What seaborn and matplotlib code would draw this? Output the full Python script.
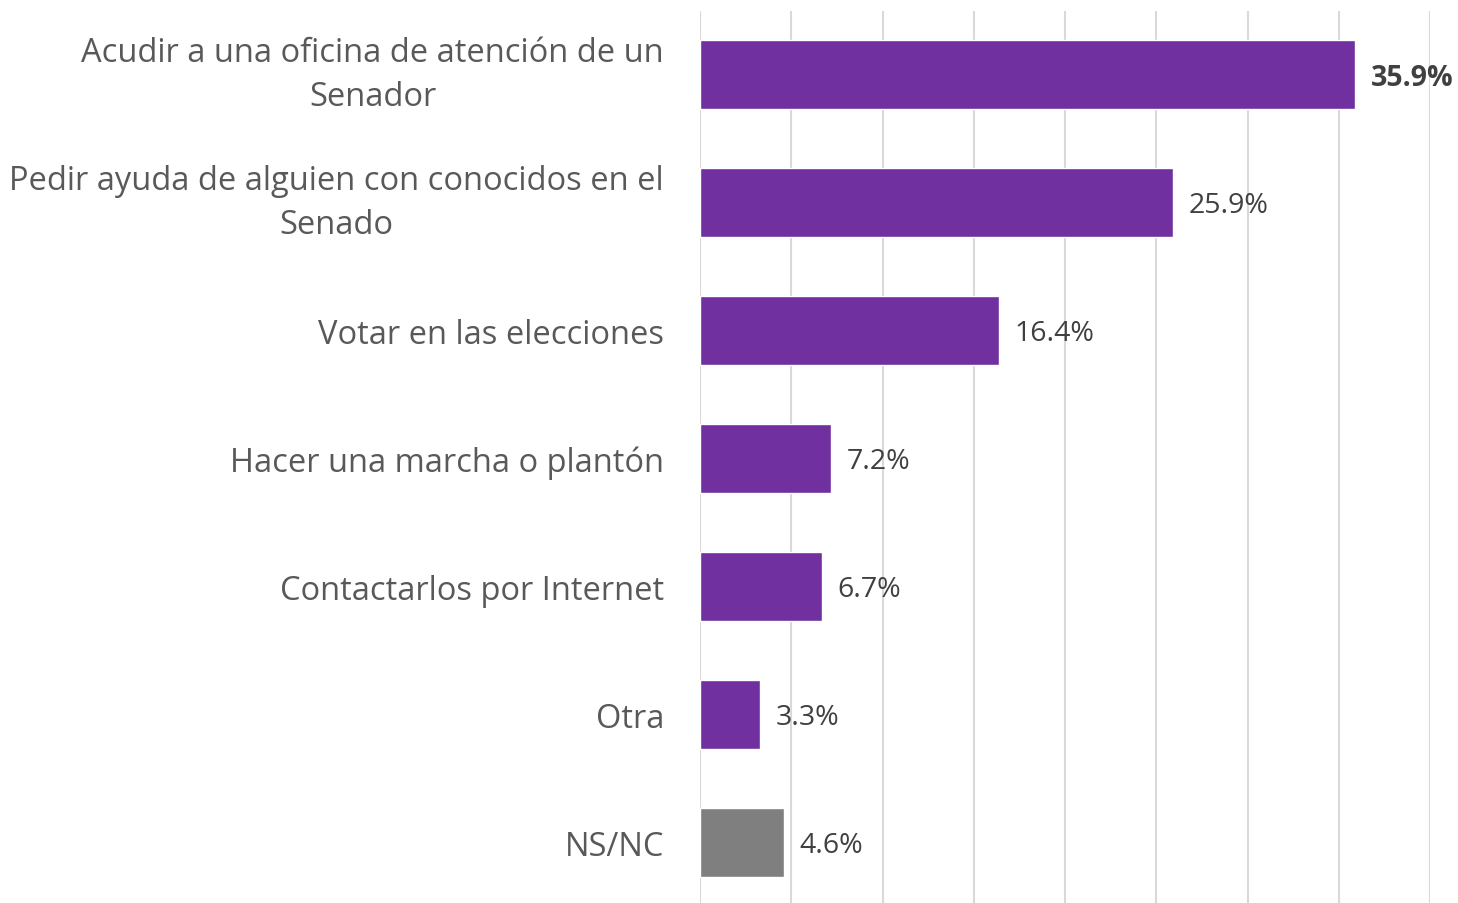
import numpy as np
import pandas as pd
import matplotlib
matplotlib.use("Agg")
import matplotlib.pyplot as plt
import seaborn as sns

# data
categories = [
    "Acudir a una oficina de atención de un\nSenador",
    "Pedir ayuda de alguien con conocidos en el\nSenado",
    "Votar en las elecciones",
    "Hacer una marcha o plantón",
    "Contactarlos por Internet",
    "Otra",
    "NS/NC",
]
values = [35.9, 25.9, 16.4, 7.2, 6.7, 3.3, 4.6]
bar_colors = ["#7030A0"] * 6 + ["#7F7F7F"]

df = pd.DataFrame({"cat": categories, "val": values})

sns.set_style("white")
plt.rcParams["font.family"] = ["Open Sans", "DejaVu Sans"]

fig = plt.figure(figsize=(14.58, 9.04), dpi=100)
ax = fig.add_axes([700 / 1458, 1 - 907.5 / 904, 730 / 1458, 896 / 904])

sns.barplot(data=df, x="val", y="cat", hue="cat", palette=bar_colors,
            legend=False, width=0.54, ax=ax, saturation=1)

ax.set_xlim(0, 40)
ax.set_xticks(np.arange(0, 41, 5))
ax.xaxis.grid(True, color="#D9D9D9", linewidth=1.5)
ax.set_axisbelow(True)
ax.tick_params(axis="x", length=0, labelbottom=False)
ax.tick_params(axis="y", length=0, pad=26)
for s in ax.spines.values():
    s.set_visible(False)
ax.set_xlabel("")
ax.set_ylabel("")

for lbl in ax.get_yticklabels():
    lbl.set_fontsize(23.5)
    lbl.set_color("#595959")
    lbl.set_multialignment("center")
    lbl.set_linespacing(1.45)
    if "\n" in lbl.get_text():
        lbl.set_va("center")

for i, v in enumerate(values):
    ax.text(v + 0.85, i + 0.02, f"{v:.1f}%", va="center", ha="left",
            fontsize=20.5, color="#404040",
            fontweight="bold" if i == 0 else "normal")

fig.savefig("out.png", dpi=100)
